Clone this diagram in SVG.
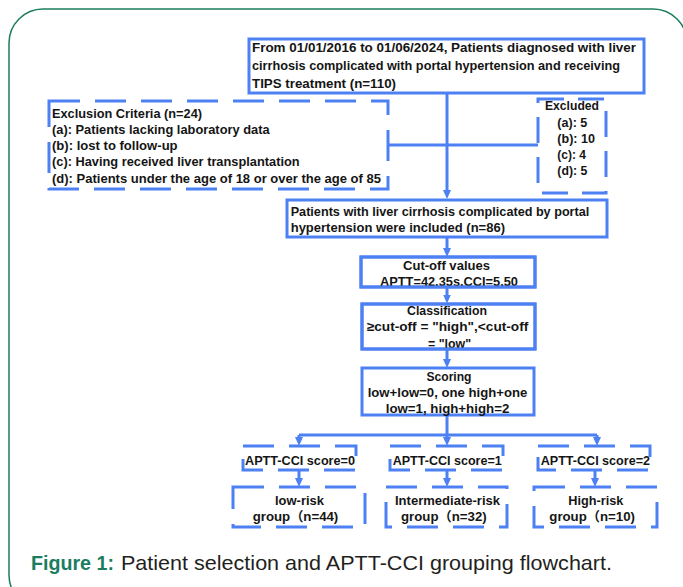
<svg xmlns="http://www.w3.org/2000/svg" width="683" height="587" viewBox="0 0 683 587">
<style>
.box{fill:#fff;stroke:#4d80f2;stroke-width:3}
.dash{fill:#fff;stroke:#4d80f2;stroke-width:3;stroke-dasharray:31 15}
.dash2{fill:#fff;stroke:#4d80f2;stroke-width:3;stroke-dasharray:26 14}
.conn{fill:none;stroke:#4d80f2;stroke-width:3}
text{font-family:"Liberation Sans","Noto Sans CJK SC",sans-serif;font-size:13px;font-weight:bold;fill:#151515}
.c{text-anchor:middle}
.cap{font-size:21px;font-weight:normal;fill:#231f20}
.fig{font-size:21px;font-weight:bold;fill:#1b7d5f}
</style>
<defs>
<marker id="arr" markerUnits="userSpaceOnUse" markerWidth="9" markerHeight="9" viewBox="0 0 9 9" refX="5" refY="4.5" orient="auto">
<path d="M0,0.5 L9,4.5 L0,8.5 z" fill="#4d80f2"/>
</marker>
</defs>
<rect x="9" y="9" width="678" height="600" rx="34" fill="#fff" stroke="#1b7d5f" stroke-width="1.5"/>
<g id="connectors">
<path class="conn" d="M447,93 V195" marker-end="url(#arr)"/>
<path class="conn" d="M387,145 H538"/>
<path class="conn" d="M447,237 V253" marker-end="url(#arr)"/>
<path class="conn" d="M447,287 V299.5" marker-end="url(#arr)"/>
<path class="conn" d="M447,349 V364" marker-end="url(#arr)"/>
<path class="conn" d="M447,415 V435 M299,435 H597"/>
<path class="conn" d="M299,435 V442" marker-end="url(#arr)"/>
<path class="conn" d="M447,435 V442" marker-end="url(#arr)"/>
<path class="conn" d="M597,435 V442" marker-end="url(#arr)"/>
<path class="conn" d="M299,470 V483" marker-end="url(#arr)"/>
<path class="conn" d="M447,470 V483" marker-end="url(#arr)"/>
<path class="conn" d="M595,470 V483" marker-end="url(#arr)"/>
</g>
<g id="n-start">
<rect class="box" x="249" y="39" width="395" height="54"/>
<text x="252" y="52" textLength="384" lengthAdjust="spacingAndGlyphs">From 01/01/2016 to 01/06/2024, Patients diagnosed with liver</text>
<text x="252" y="70" textLength="368" lengthAdjust="spacingAndGlyphs">cirrhosis complicated with portal hypertension and receiving</text>
<text x="252" y="88" textLength="144" lengthAdjust="spacingAndGlyphs">TIPS treatment (n=110)</text>
</g>
<g id="n-exclusion">
<rect class="dash" x="49" y="101" width="339" height="88"/>
<text x="52" y="118" textLength="150" lengthAdjust="spacingAndGlyphs">Exclusion Criteria (n=24)</text>
<text x="52" y="134" textLength="217.6" lengthAdjust="spacingAndGlyphs">(a): Patients lacking laboratory data</text>
<text x="52" y="150" textLength="125.6" lengthAdjust="spacingAndGlyphs">(b): lost to follow-up</text>
<text x="52" y="166" textLength="247.6" lengthAdjust="spacingAndGlyphs">(c): Having received liver transplantation</text>
<text x="52" y="182.5" textLength="329" lengthAdjust="spacingAndGlyphs">(d): Patients under the age of 18 or over the age of 85</text>
</g>
<g id="n-excluded">
<rect class="dash2" x="538" y="99" width="68" height="94"/>
<text x="545" y="110" textLength="54" lengthAdjust="spacingAndGlyphs">Excluded</text>
<text x="557.3" y="126.5" textLength="30" lengthAdjust="spacingAndGlyphs">(a): 5</text>
<text x="557.3" y="142.5" textLength="37.7" lengthAdjust="spacingAndGlyphs">(b): 10</text>
<text x="557.3" y="158.5" textLength="28.7" lengthAdjust="spacingAndGlyphs">(c): 4</text>
<text x="557.3" y="175" textLength="30" lengthAdjust="spacingAndGlyphs">(d): 5</text>
</g>
<g id="n-included">
<rect class="box" x="287" y="200" width="320" height="37"/>
<text x="290.7" y="216" textLength="298.6" lengthAdjust="spacingAndGlyphs">Patients with liver cirrhosis complicated by portal</text>
<text x="290.7" y="231.5" textLength="214.3" lengthAdjust="spacingAndGlyphs">hypertension were included (n=86)</text>
</g>
<g id="n-cutoff">
<rect class="box" x="361" y="257" width="174" height="30"/>
<text class="c" x="446.5" y="270" textLength="87" lengthAdjust="spacingAndGlyphs">Cut-off values</text>
<text class="c" x="449" y="285.5" textLength="138" lengthAdjust="spacingAndGlyphs">APTT=42.35s,CCI=5.50</text>
<rect x="361" y="257" width="174" height="30" fill="none" stroke="#4d80f2" stroke-width="3"/>
</g>
<g id="n-class">
<rect class="box" x="362" y="304" width="173" height="45"/>
<text class="c" x="447" y="315" textLength="80" lengthAdjust="spacingAndGlyphs">Classification</text>
<text class="c" x="447.5" y="331" textLength="161.6" lengthAdjust="spacingAndGlyphs">≥cut-off = "high",&lt;cut-off</text>
<text class="c" x="449.5" y="348" textLength="43" lengthAdjust="spacingAndGlyphs">= "low"</text>
<rect x="362" y="304" width="173" height="45" fill="none" stroke="#4d80f2" stroke-width="3"/>
</g>
<g id="n-scoring">
<rect class="box" x="362" y="368" width="172" height="47"/>
<text class="c" x="449" y="381" textLength="45" lengthAdjust="spacingAndGlyphs">Scoring</text>
<text class="c" x="447.5" y="397" textLength="159.6" lengthAdjust="spacingAndGlyphs">low+low=0, one high+one</text>
<text class="c" x="447.5" y="413" textLength="123.6" lengthAdjust="spacingAndGlyphs">low=1, high+high=2</text>
</g>
<g id="n-score0">
<rect class="dash" x="243" y="446" width="113" height="24"/>
<text x="245" y="465" textLength="110" lengthAdjust="spacingAndGlyphs">APTT-CCI score=0</text>
</g>
<g id="n-score1">
<rect class="dash" x="390" y="446" width="113" height="24"/>
<text x="392.7" y="465" textLength="109" lengthAdjust="spacingAndGlyphs">APTT-CCI score=1</text>
</g>
<g id="n-score2">
<rect class="dash" x="538" y="446" width="112" height="24"/>
<text x="540.7" y="465" textLength="109.3" lengthAdjust="spacingAndGlyphs">APTT-CCI score=2</text>
</g>
<g id="n-low">
<rect class="dash" x="233" y="487" width="132" height="40"/>
<text class="c" x="299.5" y="504.5" textLength="49" lengthAdjust="spacingAndGlyphs">low-risk</text>
<text x="252.7" y="520.5" textLength="85.6" lengthAdjust="spacingAndGlyphs">group（n=44)</text>
</g>
<g id="n-mid">
<rect class="dash" x="386" y="487" width="121" height="40"/>
<text class="c" x="447.5" y="504.5" textLength="105" lengthAdjust="spacingAndGlyphs">Intermediate-risk</text>
<text x="401" y="520.5" textLength="85.7" lengthAdjust="spacingAndGlyphs">group（n=32)</text>
</g>
<g id="n-high">
<rect class="dash" x="534" y="487" width="123" height="40"/>
<text class="c" x="595.8" y="504.5" textLength="55" lengthAdjust="spacingAndGlyphs">High-risk</text>
<text x="549.3" y="520.5" textLength="85.7" lengthAdjust="spacingAndGlyphs">group（n=10)</text>
</g>
<g id="caption">
<text class="fig" x="31" y="570" textLength="83" lengthAdjust="spacingAndGlyphs">Figure 1:</text>
<text class="cap" x="121" y="570" textLength="491" lengthAdjust="spacingAndGlyphs">Patient selection and APTT-CCI grouping flowchart.</text>
</g>
</svg>
